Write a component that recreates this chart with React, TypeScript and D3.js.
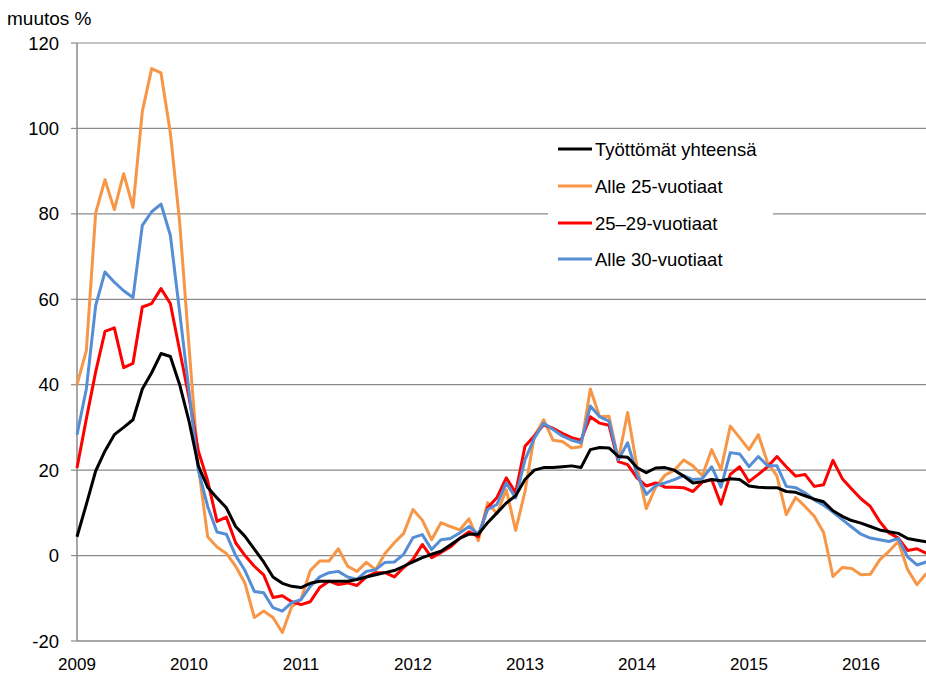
import React from "react";
import * as d3 from "d3";

const startYear = 2009;
const yearLabels = ["2009", "2010", "2011", "2012", "2013", "2014", "2015", "2016"];
const yTicks = [-20, 0, 20, 40, 60, 80, 100, 120];
const seriesNames = ["Työttömät yhteensä", "Alle 25-vuotiaat", "25–29-vuotiaat", "Alle 30-vuotiaat"];
const seriesColors = ["#000000", "#F79646", "#FF0000", "#558ED5"];

// monthly values, Jan 2009 – Aug 2016
const total = [
  4.4, 12, 19.8, 24.5, 28.3, 30, 31.8, 39, 42.8, 47.3, 46.6, 40,
  31.5, 21, 16, 13.5, 11.2, 6.8, 4.5, 1.5, -1.5, -5, -6.5, -7.2,
  -7.5, -6.5, -6, -6, -6, -6, -5.6, -5, -4.5, -4, -3.5, -2.5,
  -1.5, -0.5, 0.3, 1, 2.5, 4, 5, 5, 7.7, 10, 12.3, 14,
  17.8, 20, 20.6, 20.6, 20.8, 21, 20.6, 24.8, 25.3, 25.2, 23.2, 23,
  20.6, 19.4, 20.5, 20.6, 20, 18.6, 17, 17.3, 17.8, 17.5, 18, 17.8,
  16.3, 16, 15.9, 15.9, 15, 14.8, 14, 13.2, 12.6, 10.5, 9.2, 8.2,
  7.6, 6.8, 6, 5.6, 5.2, 4, 3.6, 3.2,
];
const under25 = [
  40, 48, 80.2, 88, 81, 89.4, 81.5, 104, 114, 113, 99, 78,
  49, 21, 4.4, 2, 0.5, -2.5, -6.5, -14.5, -13, -14.5, -18, -12,
  -10.3, -3.5, -1.3, -1.3, 1.6, -2.5, -3.7, -1.6, -3.3, 0.5, 3, 5.2,
  10.8, 8.3, 3.7, 7.7, 6.8, 6, 8.6, 3.5, 12.4, 9.8, 15.4, 5.9,
  15, 28, 31.8, 27, 26.7, 25.2, 25.5, 39, 32.5, 32.6, 22.4, 33.5,
  20.8, 11, 16, 18.8, 20, 22.4, 21, 18.7, 24.8, 20.1, 30.3, 27.6,
  24.8, 28.3, 21.7, 18.6, 9.6, 13.6, 11.5, 9.2, 5.4, -4.9, -2.8, -3,
  -4.5, -4.4, -1, 1, 3.3, -3.3, -6.8, -4.2,
];
const age25to29 = [
  20.5, 32, 43, 52.5, 53.3, 44, 45, 58.2, 59, 62.5, 59, 48,
  37, 24.5, 17.5, 8, 9, 3, 0, -2.5, -4.5, -9.8, -9.4, -10.8,
  -11.5, -10.8, -7.5, -6, -6.8, -6.4, -7, -5, -4, -4, -5, -2.8,
  -0.9, 2.6, -0.5, 0.7, 2, 4, 5.6, 4.4, 11.2, 13.6, 18.2, 14.7,
  25.6, 28, 30.6, 29.8, 28.6, 27.6, 27, 32.5, 31, 30.5, 22, 21.3,
  18.2, 16.3, 17, 16, 16, 15.9, 15, 17.2, 17.8, 12, 19, 20.8,
  17.3, 19, 20.8, 23.2, 20.8, 18.6, 19, 16.2, 16.6, 22.3, 18, 15.6,
  13.3, 11.5, 8, 5.3, 4.1, 1.2, 1.6, 0.5,
];
const under30 = [
  28.3, 39, 58.5, 66.4, 64, 62, 60.4, 77.3, 80.5, 82.3, 75, 57,
  38.5, 20, 11.5, 5.5, 5, 0, -3.5, -8.4, -8.7, -12.2, -13, -11,
  -10.3, -7.2, -5, -4, -3.7, -5, -5.6, -3.7, -3.3, -1.6, -1.5, 0.3,
  4.2, 4.9, 1.4, 3.7, 4, 5.3, 6.8, 5, 10.8, 12, 17, 13.5,
  22.4, 27.5, 31, 29.5, 28, 27, 26.4, 35, 32.5, 31.5, 22.4, 26.4,
  19, 14.3, 16.4, 17, 17.8, 18.7, 17.8, 18, 20.8, 16, 24.1, 23.8,
  20.8, 23.2, 21, 21, 16.2, 15.9, 14.7, 13, 11.8, 10.2, 8.4, 6.7,
  5, 4.1, 3.7, 3.3, 4, -0.3, -2.2, -1.5,
];

const allSeries = [total, under25, age25to29, under30];
const drawOrder = [1, 2, 3, 0];

const W = 926;
const H = 675;
const left = 77;
const right = 926.3;
const top = 43;
const bottom = 641;
const font = "'Liberation Sans', Arial, sans-serif";

export default function App() {
  const n = total.length;
  const x = d3.scaleLinear().domain([0, n - 1]).range([left, right]);
  const y = d3.scaleLinear().domain([-20, 120]).range([bottom, top]);
  const line = d3
    .line<number>()
    .x((_, i) => x(i))
    .y((d) => y(d));

  const legendY = [149, 186, 223, 259];

  return (
    <svg
      width={W}
      height={H}
      style={{ position: "absolute", left: 0, top: 0, background: "#fff" }}
      fontFamily={font}
    >
      <rect x={0} y={0} width={W} height={H} fill="#fff" />
      {/* gridlines */}
      {yTicks
        .filter((t) => t > -20)
        .map((t) => (
          <line key={t} x1={left} x2={W} y1={y(t)} y2={y(t)} stroke="#8a8a8a" strokeWidth={1.2} />
        ))}
      {/* axes */}
      <line x1={left} x2={W} y1={y(-20)} y2={y(-20)} stroke="#8a8a8a" strokeWidth={1.5} />
      <line x1={left} x2={left} y1={top} y2={bottom} stroke="#8a8a8a" strokeWidth={1.5} />
      {yTicks.map((t) => (
        <g key={"yt" + t}>
          <line x1={left - 6} x2={left} y1={y(t)} y2={y(t)} stroke="#8a8a8a" strokeWidth={1.2} />
          <text x={59} y={y(t) + 6.5} textAnchor="end" fontSize={18.5} fill="#000">
            {t}
          </text>
        </g>
      ))}
      {yearLabels.map((lab, k) => (
        <text key={lab} x={x(k * 12)} y={670} textAnchor="middle" fontSize={17} fill="#000">
          {lab}
        </text>
      ))}
      <text x={7} y={25} fontSize={19} fill="#000">
        muutos %
      </text>
      {/* legend background */}
      <rect x={548} y={133} width={225} height={142} fill="#fff" />
      {/* lines */}
      <g clipPath="url(#clip)">
        {drawOrder.map((si) => (
          <path
            key={si}
            d={line(allSeries[si]) || ""}
            fill="none"
            stroke={seriesColors[si]}
            strokeWidth={3}
            strokeLinejoin="round"
          />
        ))}
      </g>
      {/* legend */}
      {seriesNames.map((name, i) => (
        <g key={name}>
          <line x1={558} x2={592} y1={legendY[i]} y2={legendY[i]} stroke={seriesColors[i]} strokeWidth={3} />
          <text x={595} y={legendY[i] + 6.5} fontSize={18.5} fill="#000">
            {name}
          </text>
        </g>
      ))}
    </svg>
  );
}
